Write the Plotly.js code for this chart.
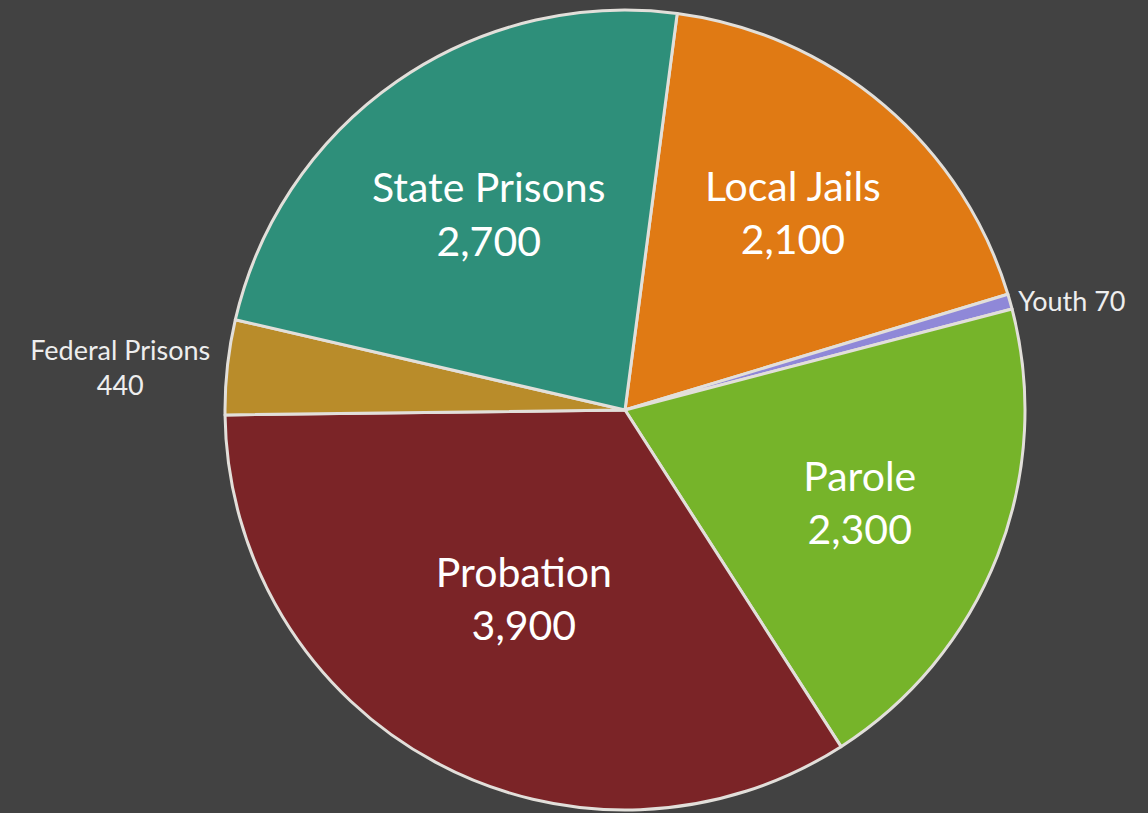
<!DOCTYPE html>
<html>
<head>
<meta charset="utf-8">
<script src="https://cdn.plot.ly/plotly-3.0.1.min.js"></script>
<style>
html,body{margin:0;padding:0;background:#424242;}
#chart{width:1148px;height:813px;}
</style>
</head>
<body>
<div id="chart"></div>
<script>
const labels = ["Local Jails", "Youth", "Parole", "Probation", "Federal Prisons", "State Prisons"];
const values = [2100, 70, 2300, 3900, 440, 2700];
const colors = ["#e07a14", "#8f88d8", "#76b42a", "#7b2427", "#b98c2a", "#2e8f7a"];
const positions = ["inside", "outside", "inside", "inside", "outside", "inside"];
const separators = ["<br>", " ", "<br>", "<br>", "<br>", "<br>"];

const texts = labels.map((l, i) => l + separators[i] + values[i].toLocaleString("en-US"));
const fontSizes = positions.map(p => p === "inside" ? 41 : 27);

const W = 1148, H = 813, cx = 625, cy = 410, R = 400;

Plotly.newPlot("chart", [{
  type: "pie",
  labels: labels,
  values: values,
  text: texts,
  textinfo: "text",
  textposition: positions,
  insidetextorientation: "horizontal",
  sort: false,
  direction: "clockwise",
  rotation: 7.5,
  marker: {colors: colors, line: {color: "#e2dfda", width: 3}},
  textfont: {family: "Lato, 'Open Sans', sans-serif", size: fontSizes, color: "#ffffff"},
  outsidetextfont: {family: "Lato, 'Open Sans', sans-serif", size: 27, color: "#eeeeee"},
  domain: {x: [(cx - R) / W, (cx + R) / W], y: [(H - cy - R) / H, (H - cy + R) / H]},
  hoverinfo: "none",
  showlegend: false
}], {
  width: W, height: H,
  margin: {l: 0, r: 0, t: 0, b: 0},
  paper_bgcolor: "#424242",
  plot_bgcolor: "#424242",
  showlegend: false
}, {displayModeBar: false, staticPlot: true});
</script>
</body>
</html>
